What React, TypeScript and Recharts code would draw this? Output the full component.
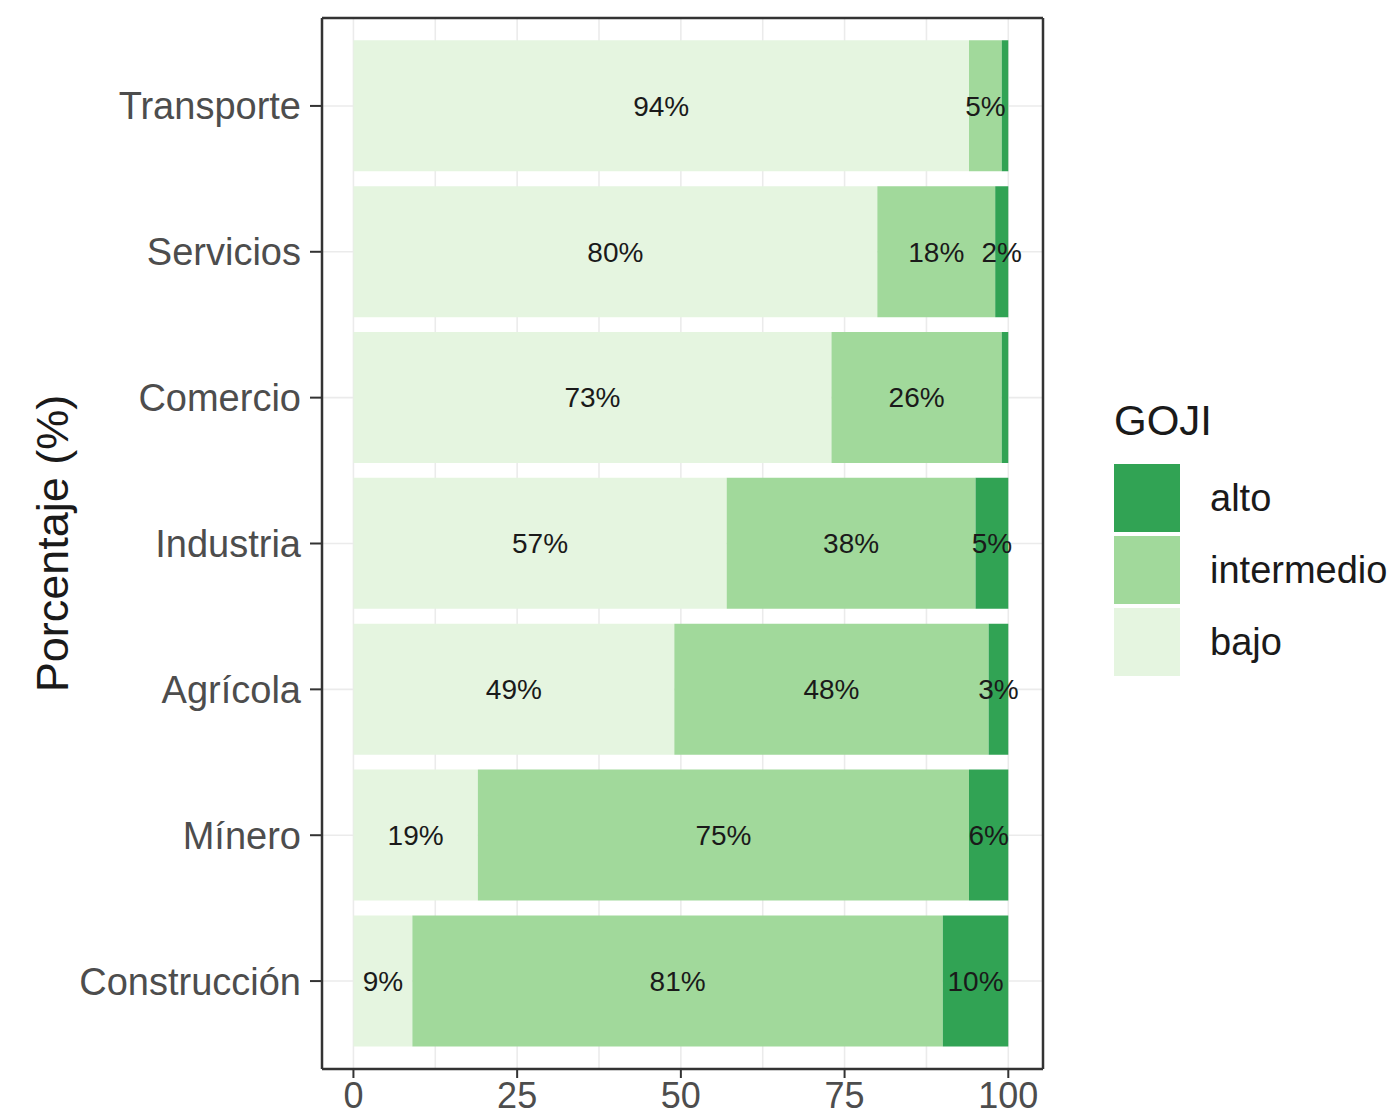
import React from 'react';
import { BarChart, Bar, XAxis, YAxis, LabelList, CartesianGrid, Legend } from 'recharts';

const categories = ['Transporte', 'Servicios', 'Comercio', 'Industria', 'Agrícola', 'Mínero', 'Construcción'];
const bajo = [94, 80, 73, 57, 49, 19, 9];
const intermedio = [5, 18, 26, 38, 48, 75, 81];
const alto = [1, 2, 1, 5, 3, 6, 10];
const xTicks = [0, 25, 50, 75, 100];
const xDomain = [-4.8, 105.3];
const gridValues = [0, 12.5, 25, 37.5, 50, 62.5, 75, 87.5, 100];
const seriesKeys = ['bajo', 'intermedio', 'alto'];
const seriesColors = ['#E5F5E0', '#A1D99B', '#31A354'];
const legendTitle = 'GOJI';
const yTitle = 'Porcentaje (%)';

const data = categories.map((c, i) => ({ cat: c, bajo: bajo[i], intermedio: intermedio[i], alto: alto[i] }));

const FONT = '"Liberation Sans", Arial, Helvetica, sans-serif';
const AXIS = '#333333';

const YTitle = (props: any) => {
  const vb = props.viewBox || { x: 0, y: 18, width: 322, height: 1051 };
  const cx = vb.x + 52;
  const cy = vb.y + vb.height / 2;
  return (
    <text
      x={cx}
      y={cy}
      transform={`rotate(-90 ${cx} ${cy})`}
      textAnchor="middle"
      dominantBaseline="central"
      fontSize={45}
      fill="#1A1A1A"
      fontFamily={FONT}
    >
      {yTitle}
    </text>
  );
};

const LegendContent = () => {
  const order = [2, 1, 0];
  return (
    <div style={{ fontFamily: FONT, color: '#1A1A1A' }}>
      <div style={{ fontSize: 42, lineHeight: '42px', height: 62 }}>{legendTitle}</div>
      {order.map((idx) => (
        <div key={seriesKeys[idx]} style={{ display: 'flex', alignItems: 'center', height: 72 }}>
          <div style={{ width: 66, height: 68, background: seriesColors[idx] }} />
          <div style={{ fontSize: 38, marginLeft: 30 }}>{seriesKeys[idx]}</div>
        </div>
      ))}
    </div>
  );
};

const fmt = (v: any) => (Number(v) >= 2 ? `${v}%` : '');

export default function App() {
  return (
    <div style={{ position: 'absolute', left: 0, top: 0, width: 1399, height: 1120, background: '#fff' }}>
      <BarChart
        width={1399}
        height={1120}
        data={data}
        layout="vertical"
        margin={{ top: 17, right: 355, bottom: 0, left: 0 }}
        barCategoryGap="5%"
        style={{ fontFamily: FONT }}
      >
        <CartesianGrid stroke="#EBEBEB" strokeWidth={1.6} verticalValues={gridValues} />
        <XAxis
          type="number"
          domain={xDomain}
          allowDataOverflow
          ticks={xTicks}
          height={51}
          tickSize={9}
          tickMargin={4}
          tickLine={{ stroke: AXIS, strokeWidth: 2 }}
          axisLine={{ stroke: AXIS, strokeWidth: 2.5 }}
          tick={{ fontSize: 36, fill: '#4D4D4D', fontFamily: FONT }}
        />
        <XAxis
          xAxisId="top"
          orientation="top"
          type="number"
          domain={xDomain}
          allowDataOverflow
          height={1}
          tick={false}
          tickLine={false}
          axisLine={{ stroke: AXIS, strokeWidth: 2.5 }}
        />
        <YAxis
          type="category"
          dataKey="cat"
          width={322}
          tickSize={12}
          tickMargin={9}
          padding={{ top: 15, bottom: 15 }}
          tickLine={{ stroke: AXIS, strokeWidth: 2 }}
          axisLine={{ stroke: AXIS, strokeWidth: 2.5 }}
          tick={{ fontSize: 38, fill: '#4D4D4D', fontFamily: FONT }}
          label={<YTitle />}
        />
        <YAxis
          yAxisId="right"
          orientation="right"
          type="category"
          dataKey="cat"
          width={1}
          tick={false}
          tickLine={false}
          axisLine={{ stroke: AXIS, strokeWidth: 2.5 }}
        />
        {seriesKeys.map((k, i) => (
          <Bar key={k} dataKey={k} stackId="a" fill={seriesColors[i]} isAnimationActive={false}>
            <LabelList
              dataKey={k}
              position="center"
              formatter={fmt}
              fill="#1A1A1A"
              fontSize={28}
              fontFamily={FONT}
            />
          </Bar>
        ))}
        <Legend
          layout="vertical"
          align="center"
          verticalAlign="middle"
          content={<LegendContent />}
          wrapperStyle={{ left: 1114, top: 400, width: 285 }}
        />
      </BarChart>
    </div>
  );
}
